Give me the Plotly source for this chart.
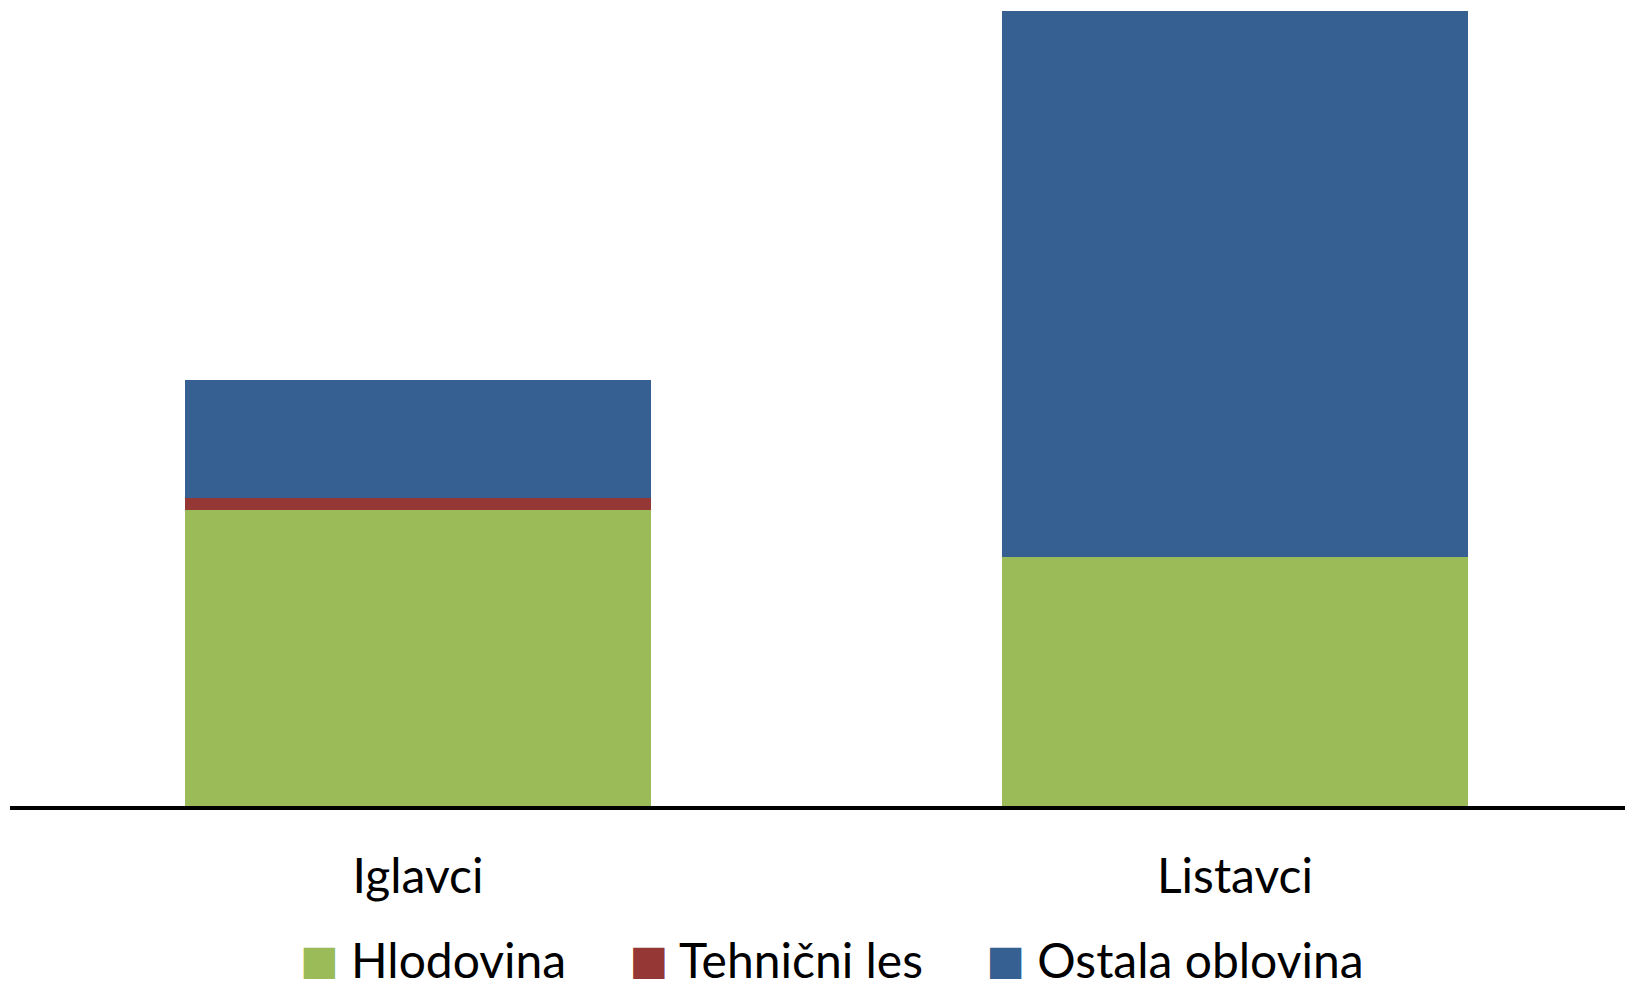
import plotly.graph_objects as go

categories = ["Iglavci", "Listavci"]
series_names = ["Hlodovina", "Tehnični les", "Ostala oblovina"]
hlodovina = [296, 249]
tehnicni_les = [12, 0]
ostala_oblovina = [118, 546]
colors = ["#9BBB59", "#953735", "#376092"]

fig = go.Figure()
for name, vals, col in zip(series_names, [hlodovina, tehnicni_les, ostala_oblovina], colors):
    fig.add_trace(go.Bar(x=categories, y=vals, name=name, marker_color=col,
                         marker_line_width=0, width=0.57, showlegend=False))
for name, col in zip(series_names, colors):
    fig.add_trace(go.Scatter(
        x=[None], y=[None], mode="markers",
        name=(f"<span style='color:{col};font-family:DejaVu Sans;font-size:41px;"
              f"baseline-shift:4px'>■</span> {name}&nbsp;\u2009"),
        marker=dict(symbol="square", size=0, color="rgba(0,0,0,0)",
                    line=dict(width=0, color="rgba(0,0,0,0)"))))

FONT = "Lato"
fig.update_layout(
    width=1625, height=981,
    margin=dict(l=10, r=0, t=0, b=175, autoexpand=False),
    paper_bgcolor="white", plot_bgcolor="white",
    barmode="stack",
    font=dict(family=FONT, size=48, color="black"),
    xaxis=dict(range=[-0.4994, 1.4774], showline=True, linecolor="black", linewidth=3.5,
               ticks="", showgrid=False, tickfont=dict(size=48), ticklabelstandoff=26,
               automargin=False),
    yaxis=dict(range=[0, 806], visible=False, showgrid=False, zeroline=False, automargin=False),
    legend=dict(orientation="h", x=(260 - 10) / 1615, xanchor="left", y=-(960 - 806) / 806,
                yanchor="middle", itemsizing="trace", itemwidth=30, font=dict(size=48),
                traceorder="normal", bgcolor="rgba(0,0,0,0)", tracegroupgap=0),
)
fig.write_html("out.html", config={"displayModeBar": False},
               post_script="document.body.style.margin='0';document.body.style.padding='0';")
